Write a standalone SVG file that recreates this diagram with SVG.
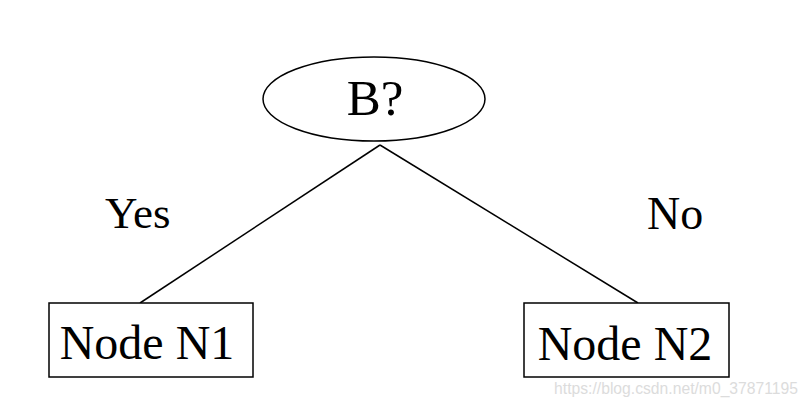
<svg xmlns="http://www.w3.org/2000/svg" width="808" height="408" viewBox="0 0 808 408">
<style>
.shape{fill:#fff;stroke:#000;stroke-width:1.5}
.t{font-family:"Liberation Serif","Times New Roman",serif;fill:#000}
.edge{stroke:#000;stroke-width:1.5;fill:none}
.wm{font-family:"Liberation Sans",Arial,sans-serif;fill:#dcdcdc}
</style>
<rect width="808" height="408" fill="#fff"/>
<g id="connectors">
<line class="edge" x1="380" y1="145" x2="140" y2="303"/>
<line class="edge" x1="380" y1="145" x2="638" y2="303"/>
</g>
<g id="nodeB">
<ellipse class="shape" cx="374" cy="99" rx="111" ry="42"/>
<text class="t" x="375" y="115" font-size="51" text-anchor="middle">B?</text>
</g>
<g id="nodeN1">
<rect class="shape" x="49" y="303" width="204" height="74"/>
<text class="t" x="147" y="359" font-size="48" text-anchor="middle">Node N1</text>
</g>
<g id="nodeN2">
<rect class="shape" x="524" y="303" width="205" height="74"/>
<text class="t" x="625" y="360" font-size="48" text-anchor="middle">Node N2</text>
</g>
<g id="labels">
<text class="t" x="105" y="228" font-size="45">Yes</text>
<text class="t" x="647" y="229" font-size="46">No</text>
</g>
<text class="wm" x="798" y="394" font-size="15.7" text-anchor="end">https://blog.csdn.net/m0_37871195</text>
</svg>
